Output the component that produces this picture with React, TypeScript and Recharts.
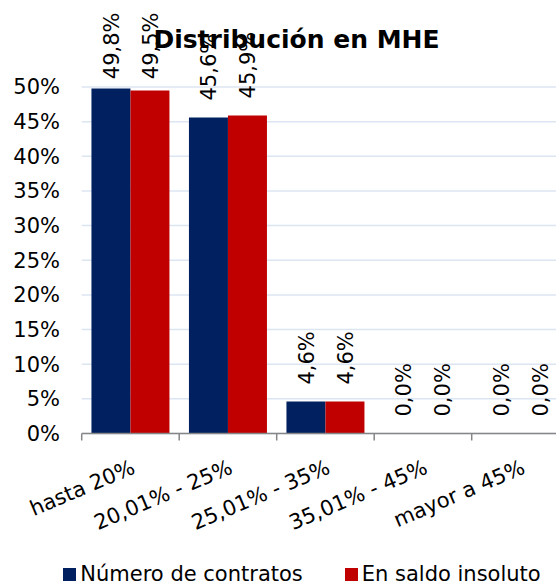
import React from "react";
import { BarChart, Bar, XAxis, YAxis, CartesianGrid, Legend, LabelList } from "recharts";

const categories = ["hasta 20%", "20,01% - 25%", "25,01% - 35%", "35,01% - 45%", "mayor a 45%"];
const numeroContratos = [0.498, 0.456, 0.046, 0, 0];
const saldoInsoluto = [0.495, 0.459, 0.046, 0, 0];
const yTicks = [0, 0.05, 0.1, 0.15, 0.2, 0.25, 0.3, 0.35, 0.4, 0.45, 0.5];
const seriesNames = ["Número de contratos", "En saldo insoluto"];

const data = categories.map((name, i) => ({
  name,
  contratos: numeroContratos[i],
  saldo: saldoInsoluto[i],
}));

const FONT = "Verdana, 'DejaVu Sans', sans-serif";
const NAVY = "#002060";
const RED = "#C00000";
const CHART_W = 600;
const CHART_H = 586;
const Y_AXIS_W = 81.7;
const RIGHT = 30.8;
const HALF_BAND = (CHART_W - Y_AXIS_W - RIGHT) / categories.length / 2;

const fmt = (v: number) => (v * 100).toFixed(1).replace(".", ",") + "%";

function XTick(props: any) {
  const { x, y, payload } = props;
  return (
    <g>
      <line x1={x - HALF_BAND} x2={x - HALF_BAND} y1={y} y2={y + 7} stroke="#868686" strokeWidth={1.5} />
      <text
        transform={`translate(${x},${y + 25}) rotate(-23)`}
        textAnchor="end"
        dy="0.73em"
        fontSize={21}
        fontFamily={FONT}
        fill="#000"
      >
        {payload.value}
      </text>
    </g>
  );
}

function BarLabel(props: any) {
  const { x, y, width, value } = props;
  const cx = Number(x) + Number(width) / 2;
  const top = Number(y);
  // labels that would run out of the top get pinned to the chart edge
  const pinned = top - 17 - 70 < 12;
  const ty = pinned ? 12.5 : top - 17;
  return (
    <text
      transform={`translate(${cx},${ty}) rotate(-90)`}
      textAnchor={pinned ? "end" : "start"}
      dy="0.36em"
      fontSize={21}
      fontFamily={FONT}
      fill="#000"
    >
      {fmt(Number(value))}
    </text>
  );
}

function LegendContent() {
  const colors = [NAVY, RED];
  return (
    <div style={{ display: "flex", justifyContent: "center", gap: 42, fontFamily: FONT, fontSize: 21, lineHeight: "22px" }}>
      {seriesNames.map((n, i) => (
        <div key={n} style={{ display: "flex", alignItems: "center" }}>
          <span style={{ display: "inline-block", width: 13, height: 13, background: colors[i], marginRight: 4 }} />
          <span style={{ color: "#000" }}>{n}</span>
        </div>
      ))}
    </div>
  );
}

export default function App() {
  return (
    <div style={{ position: "fixed", left: 0, top: 0, width: 556, height: 586, overflow: "hidden", background: "#fff" }}>
      <BarChart
        width={CHART_W}
        height={CHART_H}
        data={data}
        margin={{ top: 87, right: RIGHT, bottom: 0, left: 0 }}
        barCategoryGap="10%"
        barGap={0}
      >
        <CartesianGrid vertical={false} stroke="#DCE6F2" strokeWidth={1.5} />
        <XAxis
          dataKey="name"
          height={152.5}
          interval={0}
          tickSize={0}
          tickMargin={0}
          tickLine={false}
          axisLine={{ stroke: "#868686", strokeWidth: 1.5 }}
          tick={<XTick />}
        />
        <YAxis
          width={Y_AXIS_W}
          domain={[0, 0.5]}
          ticks={yTicks}
          interval={0}
          axisLine={false}
          tickLine={false}
          tickSize={0}
          tickMargin={21.7}
          tickFormatter={(v: number) => `${Math.round(v * 100)}%`}
          tick={{ fontSize: 21, fontFamily: FONT, fill: "#000" }}
        />
        <Legend
          layout="vertical"
          align="center"
          verticalAlign="middle"
          content={<LegendContent />}
          wrapperStyle={{ top: 563, left: 0, width: 604 }}
        />
        <Bar dataKey="contratos" name={seriesNames[0]} fill={NAVY} minPointSize={0.001} isAnimationActive={false}>
          <LabelList dataKey="contratos" content={<BarLabel />} />
        </Bar>
        <Bar dataKey="saldo" name={seriesNames[1]} fill={RED} minPointSize={0.001} isAnimationActive={false}>
          <LabelList dataKey="saldo" content={<BarLabel />} />
        </Bar>
      </BarChart>
      <div
        style={{
          position: "absolute",
          top: 28,
          left: 0,
          width: 593,
          textAlign: "center",
          fontFamily: FONT,
          fontSize: 25,
          fontWeight: "bold",
          lineHeight: "24px",
          color: "#000",
        }}
      >
        Distribución en MHE
      </div>
    </div>
  );
}
